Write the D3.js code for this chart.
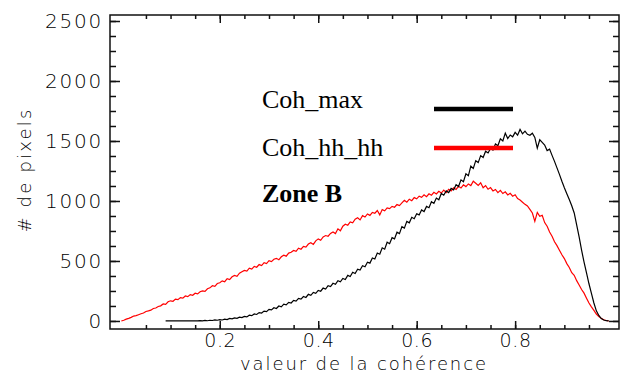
<!DOCTYPE html>
<html>
<head>
<meta charset="utf-8">
<style>
  body, html { margin: 0; padding: 0; background: #fff; }
  .tick text { font-family: "DejaVu Sans", sans-serif; font-size: 20px; font-weight: 200; fill: #000; }
  .xlab .tick text { font-size: 19px; }
  .legend { font-family: "Liberation Serif", "Times New Roman", serif; font-size: 26px; fill: #000; }
  .title { font-family: "DejaVu Sans", sans-serif; font-size: 18px; font-weight: 200; fill: #000; }
</style>
</head>
<body>
<svg id="svg" width="621" height="374"></svg>
<script src="https://d3js.org/d3.v7.min.js"></script>
<script>
// histogram bins: bin start and width
const binStep = 0.005
const redStart = 0.0
const blackStart = 0.09

// Coh_hh_hh (red), 0.00 .. 0.99
const cohHH = [
  0, 6, 15, 22, 30, 41, 44, 52, 60, 66, 79, 84, 90, 104, 108, 121, 126, 142, 138, 160,
  168, 164, 182, 178, 195, 190, 208, 203, 220, 214, 231, 226, 243, 250, 246, 268, 276, 294, 288, 312,
  318, 334, 327, 352, 345, 368, 380, 372, 398, 410, 421, 416, 440, 432, 455, 448, 470, 462, 486, 478,
  502, 495, 514, 522, 510, 535, 548, 540, 566, 572, 588, 580, 606, 598, 622, 616, 641, 652, 638, 668,
  684, 672, 700, 712, 706, 730, 742, 728, 768, 752, 790, 806, 798, 826, 818, 848, 860, 842, 878, 866,
  892, 880, 905, 898, 920, 884, 928, 918, 942, 936, 955, 948, 970, 962, 984, 1006, 990, 1015, 1002, 1028,
  1018, 1040, 1030, 1052, 1036, 1060, 1048, 1072, 1058, 1080, 1066, 1090, 1070, 1098, 1084, 1110, 1096, 1122, 1108, 1135,
  1120, 1142, 1128, 1165, 1148, 1130, 1152, 1110, 1128, 1098, 1112, 1084, 1096, 1070, 1088, 1062, 1076, 1050, 1064, 1040,
  1052, 1020, 1008, 990, 972, 958, 930, 900, 830, 905, 872, 880, 820, 790, 742, 706, 660, 628, 590, 552,
  520, 478, 446, 402, 380, 336, 300, 262, 232, 190, 150, 118, 88, 58, 36, 22, 10, 4, 0
]

// Coh_max (black), 0.09 .. 0.99
const cohMax = [
  0, 0, 0, 0, 0, 0, 0, 0, 0, 0, 0, 0, 0, 0, 3, 1, 5, 2, 6, 4,
  9, 6, 11, 8, 15, 12, 21, 17, 26, 22, 32, 28, 38, 34, 48, 44, 58, 54, 70, 66,
  82, 78, 97, 92, 110, 104, 125, 118, 140, 134, 155, 150, 172, 166, 188, 182, 204, 196, 222, 214,
  238, 230, 254, 248, 274, 266, 294, 286, 314, 305, 336, 326, 354, 346, 380, 370, 406, 396, 432, 424,
  460, 452, 490, 482, 525, 516, 566, 556, 610, 598, 656, 644, 694, 684, 740, 728, 786, 774, 830, 818,
  864, 852, 894, 884, 925, 912, 955, 944, 994, 980, 1024, 1010, 1062, 1048, 1084, 1070, 1105, 1092, 1136, 1120,
  1176, 1160, 1226, 1210, 1290, 1272, 1336, 1320, 1378, 1362, 1415, 1400, 1438, 1424, 1475, 1460, 1518, 1500, 1565, 1520,
  1550, 1535, 1572, 1548, 1596, 1560, 1582, 1556, 1548, 1565, 1530, 1440, 1510, 1488, 1466, 1420, 1432, 1380, 1330, 1276,
  1222, 1164, 1110, 1060, 1012, 960, 900, 800, 700, 590, 490, 400, 310, 230, 150, 84, 46, 20, 8, 2,
  0
]

const xMinorTicks = [0.05, 0.1, 0.15, 0.2, 0.25, 0.3, 0.35, 0.4, 0.45, 0.5, 0.55, 0.6, 0.65, 0.7, 0.75, 0.8, 0.85, 0.9, 0.95]
const xMajorTicks = [0.2, 0.4, 0.6, 0.8]
const yMinorTicks = [0, 125, 250, 375, 500, 625, 750, 875, 1000, 1125, 1250, 1375, 1500, 1625, 1750, 1875, 2000, 2125, 2250, 2375, 2500]
const yMajorTicks = [0, 500, 1000, 1500, 2000, 2500]
const legendLabels = ['Coh_max', 'Coh_hh_hh']

const plotLeft = 110, plotRight = 619, plotTop = 15, plotBottom = 329

const x = d3.scaleLinear().domain([-0.023, 1.011]).range([plotLeft, plotRight])
const y = d3.scaleLinear().domain([-67, 2550]).range([plotBottom, plotTop])

const svg = d3.select('#svg')

const redData = cohHH.map((v, i) => [redStart + i * binStep, v])
const blackData = cohMax.map((v, i) => [blackStart + i * binStep, v])

const line = d3.line().x(d => x(d[0])).y(d => y(d[1]))

svg.append('path').datum(redData)
  .attr('d', line).attr('fill', 'none').attr('stroke', '#ff0000').attr('stroke-width', 1.2)
svg.append('path').datum(blackData)
  .attr('d', line).attr('fill', 'none').attr('stroke', '#000').attr('stroke-width', 1.2)

// axes: minor + major ticks on all four sides, pointing inward
function styleAxis(g) {
  g.select('.domain').remove()
  g.selectAll('.tick line').attr('stroke', '#111').attr('stroke-width', 1.5)
}

svg.append('g').attr('transform', `translate(0,${plotBottom})`)
  .call(d3.axisBottom(x).tickValues(xMinorTicks).tickSize(-4).tickFormat(''))
  .call(styleAxis)
svg.append('g').attr('class', 'xlab').attr('transform', `translate(0,${plotBottom})`)
  .call(d3.axisBottom(x).tickValues(xMajorTicks).tickSize(-8).tickPadding(5).tickFormat(d3.format('.1f')))
  .call(styleAxis)
svg.append('g').attr('transform', `translate(0,${plotTop})`)
  .call(d3.axisTop(x).tickValues(xMinorTicks).tickSize(-4).tickFormat(''))
  .call(styleAxis)
svg.append('g').attr('transform', `translate(0,${plotTop})`)
  .call(d3.axisTop(x).tickValues(xMajorTicks).tickSize(-8).tickFormat(''))
  .call(styleAxis)

svg.append('g').attr('transform', `translate(${plotLeft},0)`)
  .call(d3.axisLeft(y).tickValues(yMinorTicks).tickSize(-6).tickFormat(''))
  .call(styleAxis)
svg.append('g').attr('class', 'ylab').attr('transform', `translate(${plotLeft},0)`)
  .call(d3.axisLeft(y).tickValues(yMajorTicks).tickSize(-10).tickPadding(7).tickFormat(d3.format('d')))
  .call(styleAxis)
svg.append('g').attr('transform', `translate(${plotRight},0)`)
  .call(d3.axisRight(y).tickValues(yMinorTicks).tickSize(-6).tickFormat(''))
  .call(styleAxis)
svg.append('g').attr('transform', `translate(${plotRight},0)`)
  .call(d3.axisRight(y).tickValues(yMajorTicks).tickSize(-10).tickFormat(''))
  .call(styleAxis)

svg.selectAll('.ylab .tick text').attr('letter-spacing', 1.8)
svg.selectAll('.xlab .tick text').attr('letter-spacing', 0.6)

// frame
svg.append('rect')
  .attr('x', plotLeft).attr('y', plotTop).attr('width', plotRight - plotLeft).attr('height', plotBottom - plotTop)
  .attr('fill', 'none').attr('stroke', '#111').attr('stroke-width', 1.5)

// axis titles
svg.append('text').attr('class', 'title')
  .attr('x', 364).attr('y', 370)
  .attr('text-anchor', 'middle')
  .attr('letter-spacing', 1.9)
  .text('valeur de la cohérence')

svg.append('text').attr('class', 'title')
  .attr('transform', 'translate(31,170) rotate(-90)')
  .attr('text-anchor', 'middle')
  .attr('letter-spacing', 2.2)
  .text('# de pixels')

// legend
const legendColors = ['#000', '#ff0000']
const legendY = [108, 156]
legendLabels.forEach((lab, i) => {
  svg.append('text').attr('class', 'legend').attr('x', 262).attr('y', legendY[i]).text(lab)
  svg.append('line')
    .attr('x1', 434).attr('x2', 513)
    .attr('y1', legendY[i] + (i === 0 ? 1 : -8)).attr('y2', legendY[i] + (i === 0 ? 1 : -8))
    .attr('stroke', legendColors[i]).attr('stroke-width', 4.5)
})
svg.append('text').attr('class', 'legend').attr('x', 262).attr('y', 202)
  .style('font-weight', 'bold').text('Zone B')
</script>
</body>
</html>
